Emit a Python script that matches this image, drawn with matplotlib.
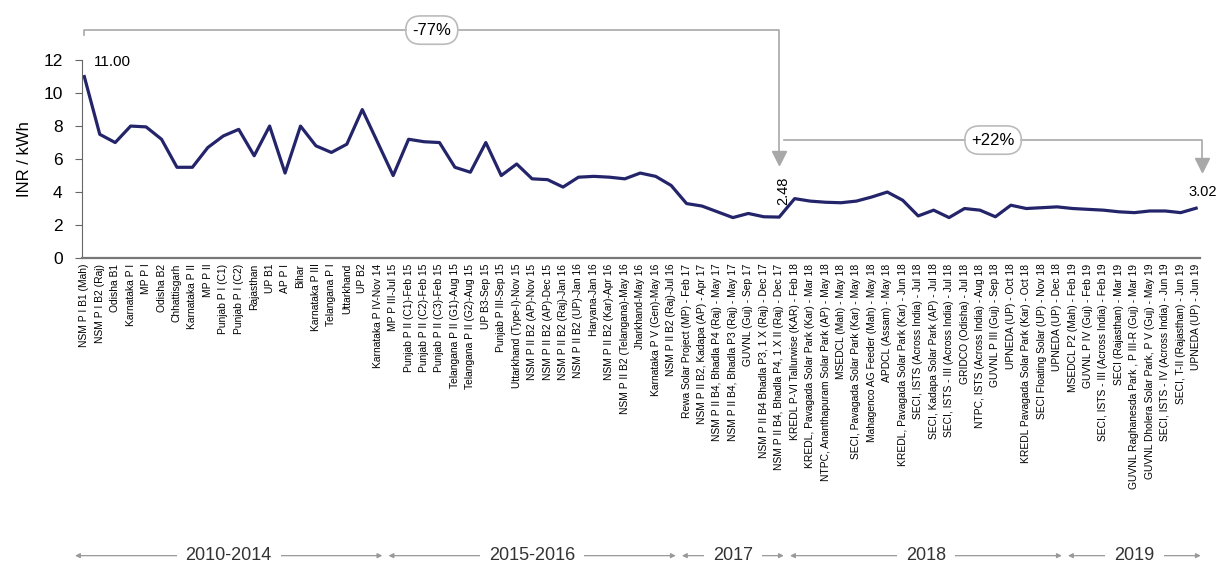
import matplotlib
matplotlib.use('Agg')
import matplotlib.pyplot as plt
from matplotlib import transforms

plt.rcParams['font.family'] = ['Liberation Sans', 'DejaVu Sans']

# 拍卖项目名称（横轴）
projects = [
    'NSM P I B1 (Mah)', 'NSM P I B2 (Raj)', 'Odisha B1', 'Karnataka P I', 'MP P I',
    'Odisha B2', 'Chhattisgarh', 'Karnataka P II', 'MP P II', 'Punjab P I (C1)',
    'Punjab P I (C2)', 'Rajasthan', 'UP B1', 'AP P I', 'Bihar',
    'Karnataka P III', 'Telangana P I', 'Uttarkhand', 'UP B2', 'Karnataka P IV-Nov 14',
    'MP P III-Jul 15', 'Punjab P II (C1)-Feb 15', 'Punjab P II (C2)-Feb 15',
    'Punjab P II (C3)-Feb 15', 'Telangana P II (G1)-Aug 15', 'Telangana P II (G2)-Aug 15',
    'UP B3-Sep 15', 'Punjab P III-Sep 15', 'Uttarkhand (Type-I)-Nov 15',
    'NSM P II B2 (AP)-Nov 15', 'NSM P II B2 (AP)-Dec 15', 'NSM P II B2 (Raj)-Jan 16',
    'NSM P II B2 (UP)-Jan 16', 'Haryana-Jan 16', 'NSM P II B2 (Kar)-Apr 16',
    'NSM P II B2 (Telangana)-May 16', 'Jharkhand-May 16', 'Karnataka P V (Gen)-May 16',
    'NSM P II B2 (Raj)-Jul 16',
    'Rewa Solar Project (MP) - Feb 17', 'NSM P II B2, Kadapa (AP) - Apr 17',
    'NSM P II B4, Bhadla P4 (Raj) - May 17', 'NSM P II B4, Bhadla P3 (Raj) - May 17',
    'GUVNL (Guj) - Sep 17', 'NSM P II B4 Bhadla P3, 1 X (Raj) - Dec 17',
    'NSM P II B4, Bhadla P4, 1 X II (Raj) - Dec 17',
    'KREDL P-VI Tallurwise (KAR) - Feb 18', 'KREDL, Pavagada Solar Park (Kar) - Mar 18',
    'NTPC, Ananthapuram Solar Park (AP) - May 18', 'MSEDCL (Mah) - May 18',
    'SECI, Pavagada Solar Park (Kar) - May 18', 'Mahagenco AG Feeder (Mah) - May 18',
    'APDCL (Assam) - May 18', 'KREDL, Pavagada Solar Park (Kar) - Jun 18',
    'SECI, ISTS (Across India) - Jul 18', 'SECI, Kadapa Solar Park (AP) - Jul 18',
    'SECI, ISTS - III (Across India) - Jul 18', 'GRIDCO (Odisha) - Jul 18',
    'NTPC, ISTS (Across India) - Aug 18', 'GUVNL P III (Guj) - Sep 18',
    'UPNEDA (UP) - Oct 18', 'KREDL Pavagada Solar Park (Kar) - Oct 18',
    'SECI Floating Solar (UP) - Nov 18', 'UPNEDA (UP) - Dec 18',
    'MSEDCL P2 (Mah) - Feb 19', 'GUVNL P IV (Guj) - Feb 19',
    'SECI, ISTS - III (Across India) - Feb 19', 'SECI (Rajasthan) - Mar 19',
    'GUVNL Raghanesda Park , P III-R (Guj) - Mar 19',
    'GUVNL Dholera Solar Park, P V (Guj) - May 19',
    'SECI, ISTS - IV (Across India) - Jun 19', 'SECI, T-II (Rajasthan) - Jun 19',
    'UPNEDA (UP) - Jun 19',
]

# 电价 INR/kWh
tariffs = [
    11.00, 7.5, 7.0, 8.0, 7.95, 7.2, 5.5, 5.5, 6.7, 7.4,
    7.8, 6.2, 8.0, 5.15, 8.0, 6.8, 6.4, 6.9, 9.0, 7.0,
    5.0, 7.2, 7.05, 7.0, 5.5, 5.2, 7.0, 5.0, 5.7, 4.8,
    4.75, 4.3, 4.9, 4.95, 4.9, 4.8, 5.15, 4.95, 4.4, 3.3,
    3.15, 2.8, 2.45, 2.7, 2.5, 2.48, 3.6, 3.45, 3.38, 3.35,
    3.45, 3.7, 4.0, 3.5, 2.55, 2.9, 2.45, 3.0, 2.9, 2.5,
    3.2, 3.0, 3.05, 3.1, 3.0, 2.95, 2.9, 2.8, 2.75, 2.85,
    2.85, 2.75, 3.02,
]

# 年份分组及项目数
year_groups = ['2010-2014', '2015-2016', '2017', '2018', '2019']
year_counts = [20, 19, 7, 18, 9]

line_color = '#24246a'
grey = '#a8a8a8'

fig = plt.figure(figsize=(12.22, 5.67), dpi=100)
ax = fig.add_axes([0.0671, 0.545, 0.9149, 0.349])

x = list(range(len(tariffs)))
ax.plot(x, tariffs, color=line_color, lw=2.3, solid_joinstyle='round')

ax.set_xlim(-0.15, len(tariffs) - 1 + 0.25)
ax.set_ylim(0, 12)
ax.set_yticks([0, 2, 4, 6, 8, 10, 12])
ax.tick_params(axis='y', labelsize=12.5, length=5, pad=9, color='#666666')
ax.set_xticks(x)
ax.set_xticklabels(projects, rotation=90, fontsize=7.4)
ax.tick_params(axis='x', length=0, pad=4)
ax.set_ylabel('INR / kWh', fontsize=12, labelpad=8)
for s in ['top', 'right']:
    ax.spines[s].set_visible(False)
ax.spines['left'].set_color('#666666')
ax.spines['bottom'].set_color('#777777')
ax.spines['bottom'].set_linewidth(1.6)

# 数值标注
first, low, last = tariffs[0], tariffs[45], tariffs[-1]
ax.text(0.65, 11.9, f'{first:.2f}', fontsize=11, ha='left', va='center')
ax.text(45.25, 4.05, f'{low:.2f}', fontsize=10.5, ha='center', va='center', rotation=90)
ax.text(72.4, 4.0, f'{last:.2f}', fontsize=10.5, ha='center', va='center')

# -77% 括线
y1 = 13.82
ax.plot([0, 0, 45, 45], [13.5, y1, y1, 6.4], color=grey, lw=1.2, clip_on=False)
ax.plot([45], [6.05], marker='v', color=grey, markersize=10, clip_on=False)
ax.text(22.5, y1, f'{(low / first - 1) * 100:.0f}%', fontsize=12, ha='center', va='center',
        bbox=dict(boxstyle='round,pad=0.4,rounding_size=0.9', fc='white', ec='#bbbbbb', lw=1.2))

# +22% 括线
y2 = 7.15
ax.plot([45.3, 72.4, 72.4], [y2, y2, 5.95], color=grey, lw=1.2, clip_on=False)
ax.plot([72.4], [5.62], marker='v', color=grey, markersize=10, clip_on=False)
ax.text(58.85, y2, f'+{(last / low - 1) * 100:.0f}%', fontsize=12, ha='center', va='center',
        bbox=dict(boxstyle='round,pad=0.4,rounding_size=0.9', fc='white', ec='#bbbbbb', lw=1.2))

# 年份区间
trans = transforms.blended_transform_factory(ax.transData, fig.transFigure)
start = 0
for name, n in zip(year_groups, year_counts):
    a = start - 0.5 + 0.2
    b = start + n - 1 + 0.5 - 0.2
    if start == 0:
        a = -0.6
    ax.annotate('', xy=(b, 0.02), xytext=(a, 0.02), xycoords=trans, textcoords=trans,
                arrowprops=dict(arrowstyle='<|-|>', color='#999999', lw=0.9,
                                mutation_scale=7, shrinkA=0, shrinkB=0))
    ax.text((a + b) / 2, 0.02, name, transform=trans, fontsize=13, ha='center', va='center',
            color='#333333',
            bbox=dict(boxstyle='square,pad=0.5', fc='white', ec='none'))
    start += n

fig.savefig('out.png', dpi=100)
